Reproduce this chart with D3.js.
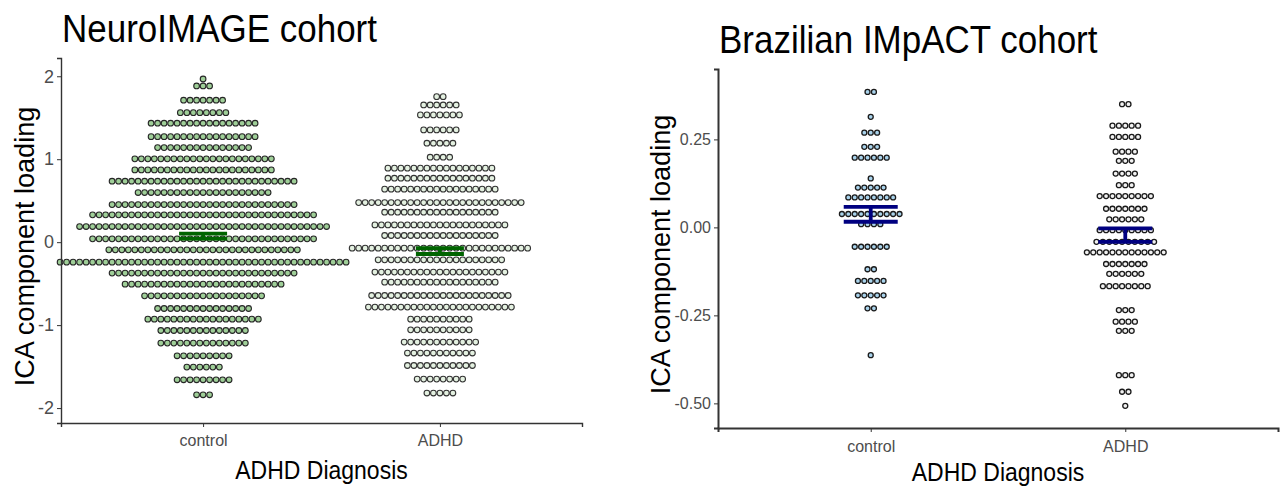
<!DOCTYPE html>
<html>
<head>
<meta charset="utf-8">
<script src="https://cdn.jsdelivr.net/npm/d3@7"></script>
<style>
  body { margin: 0; background: #fff; }
  text { font-family: Arial, "Liberation Sans", sans-serif; }
</style>
</head>
<body>
<div id="chart"></div>
<script>
// categories on the x axis
const categories = ["control", "ADHD"];

// NeuroIMAGE: dotplot bins (y value) and how many dots are stacked in each bin
const neuroControlBins = [1.967, 1.883, 1.711, 1.561, 1.434, 1.272, 1.140, 1.004, 0.871, 0.735, 0.598, 0.453, 0.329, 0.188, 0.040, -0.093, -0.241, -0.373, -0.506, -0.647, -0.800, -0.928, -1.065, -1.217, -1.370, -1.506, -1.659, -1.840];
const neuroControlCounts = [1, 3, 7, 8, 17, 17, 15, 22, 22, 29, 21, 29, 35, 39, 35, 30, 45, 29, 25, 19, 15, 18, 14, 14, 9, 6, 9, 3];
const neuroAdhdBins = [1.754, 1.654, 1.534, 1.353, 1.193, 1.024, 0.892, 0.771, 0.639, 0.477, 0.361, 0.208, 0.080, -0.072, -0.213, -0.361, -0.482, -0.643, -0.783, -0.928, -1.057, -1.205, -1.337, -1.487, -1.651, -1.819];
const neuroAdhdCounts = [2, 6, 7, 6, 5, 4, 17, 17, 18, 26, 18, 21, 18, 28, 20, 21, 18, 22, 23, 10, 10, 12, 11, 11, 8, 5];
const neuroMeans = [0.072, -0.108];
const neuroSE = [0.03, 0.035];
const neuroTicks = [-2, -1, 0, 1, 2];

// Brazilian IMpACT
const impactControlBins = [0.385, 0.314, 0.269, 0.229, 0.198, 0.139, 0.113, 0.085, 0.038, 0.009, -0.055, -0.119, -0.152, -0.193, -0.230, -0.363];
const impactControlCounts = [2, 1, 3, 3, 6, 1, 5, 8, 10, 4, 6, 2, 5, 5, 2, 1];
const impactAdhdBins = [0.350, 0.289, 0.257, 0.215, 0.189, 0.153, 0.120, 0.089, 0.053, 0.023, -0.008, -0.041, -0.071, -0.104, -0.132, -0.167, -0.235, -0.268, -0.294, -0.420, -0.467, -0.507];
const impactAdhdCounts = [2, 5, 5, 4, 3, 4, 3, 9, 7, 6, 9, 10, 13, 7, 6, 8, 3, 4, 3, 3, 2, 1];
const impactMeans = [0.037, -0.022];
const impactSE = [0.021, 0.019];
const impactTicks = [-0.5, -0.25, 0, 0.25];

const W = 1281, H = 489;
const svg = d3.select("#chart").append("svg")
    .attr("width", W)
    .attr("height", H);

// the source image is a bit stretched vertically, so text gets a small y scale
const STRETCH = 1.12;

function panel(cfg) {
    const g = svg.append("g");

    const x = d3.scalePoint()
        .domain(categories)
        .range([cfg.left, cfg.right])
        .padding(0.6);

    const y = d3.scaleLinear()
        .domain(cfg.yDomain)
        .range([cfg.bottom, cfg.top]);

    // dots: each bin is stacked around the category centre
    cfg.groups.forEach((grp, gi) => {
        const dots = [];
        grp.bins.forEach((v, i) => {
            const n = grp.counts[i];
            for (let k = 0; k < n; k++) {
                dots.push({cat: categories[gi], v: v, off: (k - (n - 1) / 2) * cfg.step});
            }
        });
        g.append("g").selectAll("circle")
            .data(dots)
            .join("circle")
            .attr("cx", d => x(d.cat) + d.off)
            .attr("cy", d => y(d.v))
            .attr("r", cfg.r)
            .attr("fill", grp.fill)
            .attr("stroke", grp.stroke)
            .attr("stroke-width", cfg.dotStroke);
    });

    // mean +/- se
    const eb = g.append("g")
        .attr("stroke", cfg.barColor)
        .attr("stroke-width", cfg.barWidth)
        .attr("fill", "none");
    categories.forEach((c, i) => {
        const cx = x(c), hw = cfg.barHalf;
        const y1 = y(cfg.means[i] + cfg.se[i]), y2 = y(cfg.means[i] - cfg.se[i]);
        eb.append("line").attr("x1", cx - hw).attr("x2", cx + hw).attr("y1", y1).attr("y2", y1);
        eb.append("line").attr("x1", cx - hw).attr("x2", cx + hw).attr("y1", y2).attr("y2", y2);
        eb.append("line").attr("x1", cx).attr("x2", cx).attr("y1", y1).attr("y2", y2);
    });

    // axes
    const yAxis = d3.axisLeft(y)
        .tickValues(cfg.ticks)
        .tickFormat(cfg.fmt)
        .tickSizeOuter(0)
        .tickSize(4)
        .tickPadding(3);
    g.append("g")
        .attr("transform", `translate(${cfg.left},0)`)
        .call(yAxis)
        .call(a => a.select(".domain").attr("stroke", "#333").attr("stroke-width", cfg.axisWidth))
        .call(a => a.selectAll(".tick line").attr("stroke", "#333"))
        .call(a => a.selectAll(".tick text")
            .attr("fill", "#4d4d4d")
            .attr("font-size", cfg.yTickSize)
            .attr("font-family", "Arial, 'Liberation Sans', sans-serif"));

    const xAxis = d3.axisBottom(x)
        .tickSizeOuter(0)
        .tickSize(4)
        .tickPadding(cfg.xTickPad);
    g.append("g")
        .attr("transform", `translate(0,${cfg.bottom})`)
        .call(xAxis)
        .call(a => a.select(".domain").attr("stroke", "#333").attr("stroke-width", cfg.axisWidth))
        .call(a => a.selectAll(".tick line").attr("stroke", "#333"))
        .call(a => a.selectAll(".tick text")
            .attr("fill", "#4d4d4d")
            .attr("font-size", 16)
            .attr("font-family", "Arial, 'Liberation Sans', sans-serif"));

    // titles and labels
    g.append("text")
        .attr("transform", `translate(${cfg.left + 1},${cfg.titleY}) scale(1,${STRETCH})`)
        .attr("font-size", 35)
        .attr("fill", "#000")
        .text(cfg.title);

    g.append("text")
        .attr("transform", `translate(${cfg.yLabelX},${(cfg.top + cfg.bottom) / 2 + 6}) rotate(-90) scale(1.04,1.08)`)
        .attr("text-anchor", "middle")
        .attr("font-size", 26)
        .attr("fill", "#000")
        .text("ICA component loading");

    g.append("text")
        .attr("transform", `translate(${(cfg.left + cfg.right) / 2},${cfg.xLabelY}) scale(1,${STRETCH})`)
        .attr("text-anchor", "middle")
        .attr("font-size", 23)
        .attr("fill", "#000")
        .text("ADHD Diagnosis");
}

panel({
    left: 61, right: 582, top: 58, bottom: 423,
    yDomain: [-2.18, 2.22],
    ticks: neuroTicks,
    fmt: d => String(d),
    groups: [
        {bins: neuroControlBins, counts: neuroControlCounts, fill: "#9fcf98", stroke: "#262626"},
        {bins: neuroAdhdBins, counts: neuroAdhdCounts, fill: "#e4f1e1", stroke: "#333"}
    ],
    step: 6.5, r: 2.85, dotStroke: 1.1,
    means: neuroMeans, se: neuroSE,
    barColor: "#006400", barWidth: 3.8, barHalf: 24,
    axisWidth: 1.4, yTickSize: 18, xTickPad: 8,
    title: "NeuroIMAGE cohort", titleY: 42,
    yLabelX: 34, xLabelY: 479
});

panel({
    left: 718, right: 1278, top: 69, bottom: 428,
    yDomain: [-0.57, 0.45],
    ticks: impactTicks,
    fmt: d => d.toFixed(2),
    groups: [
        {bins: impactControlBins, counts: impactControlCounts, fill: "#a9d3ec", stroke: "#1a1a1a"},
        {bins: impactAdhdBins, counts: impactAdhdCounts, fill: "#f2f2f2", stroke: "#1a1a1a"}
    ],
    step: 6.4, r: 2.5, dotStroke: 1.3,
    means: impactMeans, se: impactSE,
    barColor: "#000080", barWidth: 3.8, barHalf: 27,
    axisWidth: 2, yTickSize: 16, xTickPad: 9,
    title: "Brazilian IMpACT cohort", titleY: 53,
    yLabelX: 670, xLabelY: 481
});
</script>
</body>
</html>
